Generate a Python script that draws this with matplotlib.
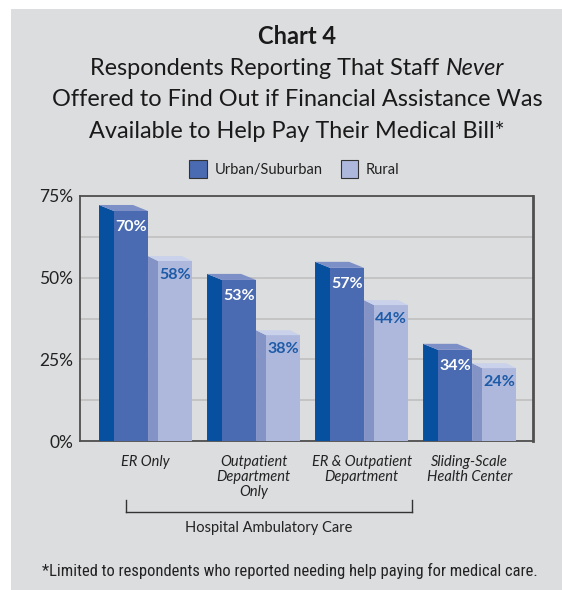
import matplotlib
matplotlib.use("Agg")
import matplotlib.pyplot as plt
from matplotlib.patches import Rectangle, Polygon
from matplotlib.lines import Line2D
from matplotlib.transforms import blended_transform_factory
import matplotlib.font_manager as fm

# ---------------- data ----------------
categories = ["ER Only", "Outpatient\nDepartment\nOnly", "ER & Outpatient\nDepartment",
              "Sliding-Scale\nHealth Center"]
series_names = ["Urban/Suburban", "Rural"]
urban_labels = [70, 53, 57, 34]          # printed values
rural_labels = [58, 38, 44, 24]
urban_heights = [70.4, 49.3, 53.0, 27.9]  # bar heights as drawn in the picture
rural_heights = [55.1, 32.4, 41.6, 22.3]
y_ticks = [0, 25, 50, 75]
y_tick_labels = ["0%", "25%", "50%", "75%"]
bracket_label = "Hospital Ambulatory Care"
title_bold = "Chart 4"
title_lines = ["Offered to Find Out if Financial Assistance Was",
               "Available to Help Pay Their Medical Bill*"]
title_line1 = ("Respondents Reporting That Staff ", "Never")
footnote = "*Limited to respondents who reported needing help paying for medical care."

# ---------------- style ----------------
W, H = 562, 590
BG = "#dcdddf"
U_SIDE, U_FRONT, U_TOP = "#07509f", "#4a6bb1", "#7d8fc7"
R_SIDE, R_FRONT, R_TOP = "#8393c6", "#adb8dc", "#c9d1eb"
FONT = "Lato"
names = {f.name for f in fm.fontManager.ttflist}
NARROW = "Roboto"
for cand in ["Roboto Condensed", "Liberation Sans Narrow", "Open Sans Condensed"]:
    if cand in names:
        NARROW = cand
        break


def fx(px):
    return px / W


def fy(py):
    return 1 - py / H


fig = plt.figure(figsize=(W / 100, H / 100), dpi=100)
fig.patch.set_facecolor("white")
fig.patches.append(Rectangle((fx(11), 0), 1 - fx(11), fy(9), transform=fig.transFigure,
                             facecolor=BG, edgecolor="none", zorder=-10))
r = fig.canvas.get_renderer()

ax = fig.add_axes([fx(80), fy(441), fx(533) - fx(80), fy(196) - fy(441)])
ax.set_facecolor(BG)
ax.set_xlim(-0.176, 4.018)
ax.set_ylim(0, 75)

# grid
ax.set_yticks(y_ticks)
ax.set_yticklabels(y_tick_labels, fontfamily=FONT, fontsize=12.5, color="#222222")
ax.set_yticks([12.5, 37.5, 62.5], minor=True)
ax.grid(axis="y", which="both", color="#c2c2c2", lw=1.3, zorder=0)
ax.tick_params(axis="y", which="both", length=0, pad=5)
ax.set_xticks([])
for s in ax.spines.values():
    s.set_color("#4f4f4f")
    s.set_linewidth(1.3)
ax.spines["right"].set_linewidth(2.0)

# bar geometry (units of group spacing)
u_side, front, r_side = 0.139, 0.315, 0.093
u_dy, r_dy = 1.85, 1.5


def bar3d(x0, side_w, h, dy, c_side, c_front, c_top):
    xf = x0 + side_w
    xe = xf + front
    ax.add_patch(Polygon([(x0, 0), (x0, h + dy), (xf, h), (xf, 0)], closed=True,
                         facecolor=c_side, edgecolor="none", zorder=3))
    ax.add_patch(Polygon([(xf, 0), (xf, h), (xe, h), (xe, 0)], closed=True,
                         facecolor=c_front, edgecolor="none", zorder=3))
    ax.add_patch(Polygon([(x0, h + dy), (xe - side_w, h + dy), (xe, h), (xf, h)], closed=True,
                         facecolor=c_top, edgecolor="none", zorder=3))
    return (xf + xe) / 2


for i in range(len(categories)):
    cu = bar3d(i, u_side, urban_heights[i], u_dy, U_SIDE, U_FRONT, U_TOP)
    ax.text(cu, urban_heights[i] - 4.9, f"{urban_labels[i]}%", ha="center", va="center",
            color="white", fontsize=11.5, fontweight="bold", fontfamily=FONT, zorder=5)
    xr = i + u_side + front
    cr = bar3d(xr, r_side, rural_heights[i], r_dy, R_SIDE, R_FRONT, R_TOP)
    ax.text(cr, rural_heights[i] - 4.3, f"{rural_labels[i]}%", ha="center", va="center",
            color="#1d5aa7", fontsize=11.5, fontweight="bold", fontfamily=FONT, zorder=5)

# category labels
bt = blended_transform_factory(ax.transData, fig.transFigure)
group_w = u_side + front + r_side + front
for i, c in enumerate(categories):
    ax.text(i + group_w / 2, fy(455), c, transform=bt, ha="center", va="top",
            fontsize=10.5, fontstyle="italic", fontfamily=FONT, color="#222222",
            linespacing=1.1)

# bracket
bl, br = 0.25, 2.9
for xs, ys in [([bl, bl], [fy(500), fy(512)]), ([br, br], [fy(500), fy(512)]),
               ([bl, br], [fy(512), fy(512)])]:
    ax.add_line(Line2D(xs, ys, transform=bt, color="#333333", lw=1.0, clip_on=False))
ax.text((bl + br) / 2, fy(528), bracket_label, transform=bt, ha="center", va="center",
        fontsize=10.5, fontfamily=FONT, color="#222222")

# title
TX = 297
fig.text(fx(TX), fy(44), title_bold, ha="center", va="baseline", fontsize=17,
         fontweight="bold", fontfamily=FONT, color="#1a1a1a")
TS = 16.9
t1 = fig.text(0, fy(75), title_line1[0], ha="left", va="baseline", fontsize=TS,
              fontfamily=FONT, color="#1a1a1a")
t2 = fig.text(0, fy(75), title_line1[1], ha="left", va="baseline", fontsize=TS,
              fontfamily=FONT, fontstyle="italic", color="#1a1a1a")
w1 = t1.get_window_extent(r).width
w2 = t2.get_window_extent(r).width
start = TX - (w1 + w2) / 2
t1.set_x(fx(start))
t2.set_x(fx(start + w1))
for k, line in enumerate(title_lines):
    fig.text(fx(TX), fy(106.5 + 31.5 * k), line, ha="center", va="baseline", fontsize=TS,
             fontfamily=FONT, color="#1a1a1a")

# legend
for (x0, x1, tx, name, col) in [(189, 207, 215, series_names[0], U_FRONT),
                                  (341, 358, 366, series_names[1], R_FRONT)]:
    fig.patches.append(Rectangle((fx(x0), fy(178)), fx(x1) - fx(x0), fy(160) - fy(178),
                                 transform=fig.transFigure, facecolor=col,
                                 edgecolor="#333333", lw=0.8))
    fig.text(fx(tx), fy(170), name, ha="left", va="center", fontsize=10.5,
             fontfamily=FONT, color="#222222")

# footnote: fit to the reference width
fn = fig.text(fx(290), fy(571), footnote, ha="center", va="center", fontsize=11,
              fontfamily=NARROW, color="#222222")
wf = fn.get_window_extent(r).width
fn.set_fontsize(min(12.5, 11 * 494 / wf))

fig.savefig("out.png", dpi=100, facecolor=fig.get_facecolor())
